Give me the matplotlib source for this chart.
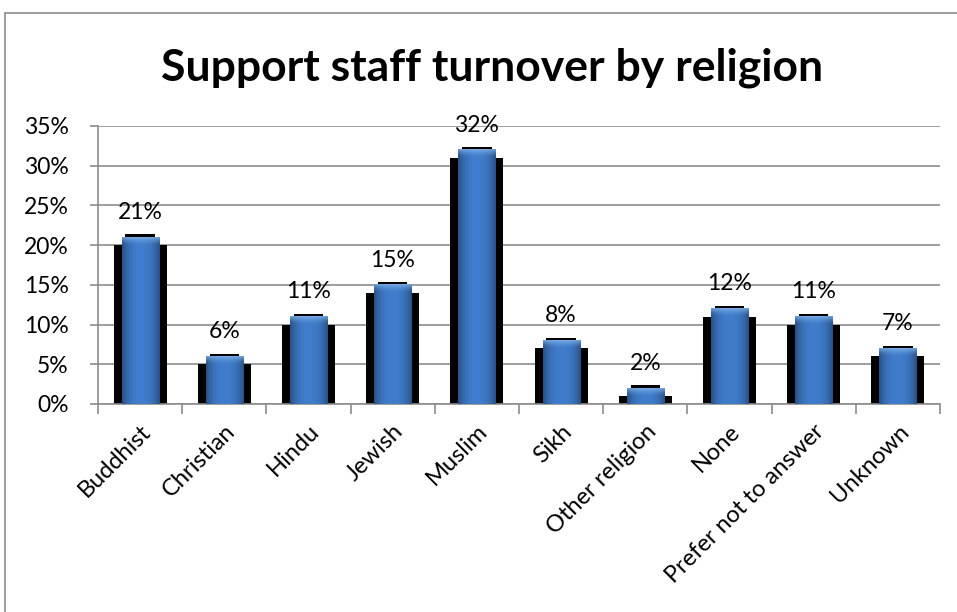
import matplotlib
matplotlib.use('Agg')
from matplotlib import pyplot as plt
from matplotlib.patches import Rectangle
import numpy as np

plt.rcParams['font.family'] = ['Lato', 'DejaVu Sans']

# chart data
religions = ['Buddhist', 'Christian', 'Hindu', 'Jewish', 'Muslim', 'Sikh',
             'Other religion', 'None', 'Prefer not to answer', 'Unknown']
turnover = [21, 6, 11, 15, 32, 8, 2, 12, 11, 7]
y_ticks = [0, 5, 10, 15, 20, 25, 30, 35]

fig = plt.figure(figsize=(9.57, 6.12), dpi=100)
ax = fig.add_axes([98/957, 1-404/612, (940-98)/957, (404-126)/612])

# outer chart border
fig.patches.append(Rectangle((5/957, -0.1), 1.2, 1.1 - 13/612,
                             transform=fig.transFigure, fill=False,
                             edgecolor='#8c8c8c', linewidth=1.2))

x = np.arange(len(religions))

# horizontal shading for the blue bars
g = np.linspace(-1, 1, 48)
shade = 1 - 0.35*np.abs(g)**2.5
base = np.array([0.25, 0.49, 0.80])


def bar_image(v):
    rows = max(int(v*20), 20)
    img = np.ones((rows, len(g), 3))*base[None, None, :]*shade[None, :, None]
    # light highlight fading down from the top (about 1 unit tall)
    fade = np.clip(1 - np.arange(rows)/20.0, 0, 1)**1.5
    hi = np.array([0.55, 0.75, 0.95])
    img = img*(1 - 0.7*fade[:, None, None]) + hi*0.7*fade[:, None, None]
    return np.clip(img, 0, 1)


for xi, v in zip(x, turnover):
    # black shadow behind the bar
    ax.bar(xi, max(v - 1.0, 0.5), width=0.63, color='black', zorder=2)
    ax.bar(xi, v + 0.35, width=0.35, color='black', zorder=2)
    ax.imshow(bar_image(v), extent=(xi - 0.22, xi + 0.22, 0, v),
              aspect='auto', zorder=3, interpolation='bilinear')
    ax.text(xi, v + 1.8, '%d%%' % v, ha='center', va='bottom',
            fontsize=16.5, zorder=5)

ax.set_xlim(-0.5, len(religions) - 0.5)
ax.set_ylim(0, 35)
ax.set_yticks(y_ticks)
ax.set_yticklabels(['%d%%' % t for t in y_ticks], fontsize=16.5)
ax.yaxis.grid(True, color='#8c8c8c', linewidth=1.2, zorder=0)
ax.set_axisbelow(True)

ax.set_xticks(x)
ax.set_xticklabels(religions, rotation=45, ha='right',
                   rotation_mode='anchor', fontsize=17)
ax.tick_params(axis='x', length=0, pad=12)
ax.set_xticks(np.arange(-0.5, len(religions)), minor=True)
ax.tick_params(axis='x', which='minor', length=7, color='#8c8c8c', width=1.2)
ax.tick_params(axis='y', length=6, color='#8c8c8c', width=1.2, pad=15)

for s in ['top', 'right']:
    ax.spines[s].set_visible(False)
for s in ['left', 'bottom']:
    ax.spines[s].set_color('#8c8c8c')
    ax.spines[s].set_linewidth(1.2)

fig.text(492/957, 1-68/612, 'Support staff turnover by religion',
         ha='center', va='center', fontsize=32, fontweight='bold')

fig.savefig('out.png', dpi=100)
